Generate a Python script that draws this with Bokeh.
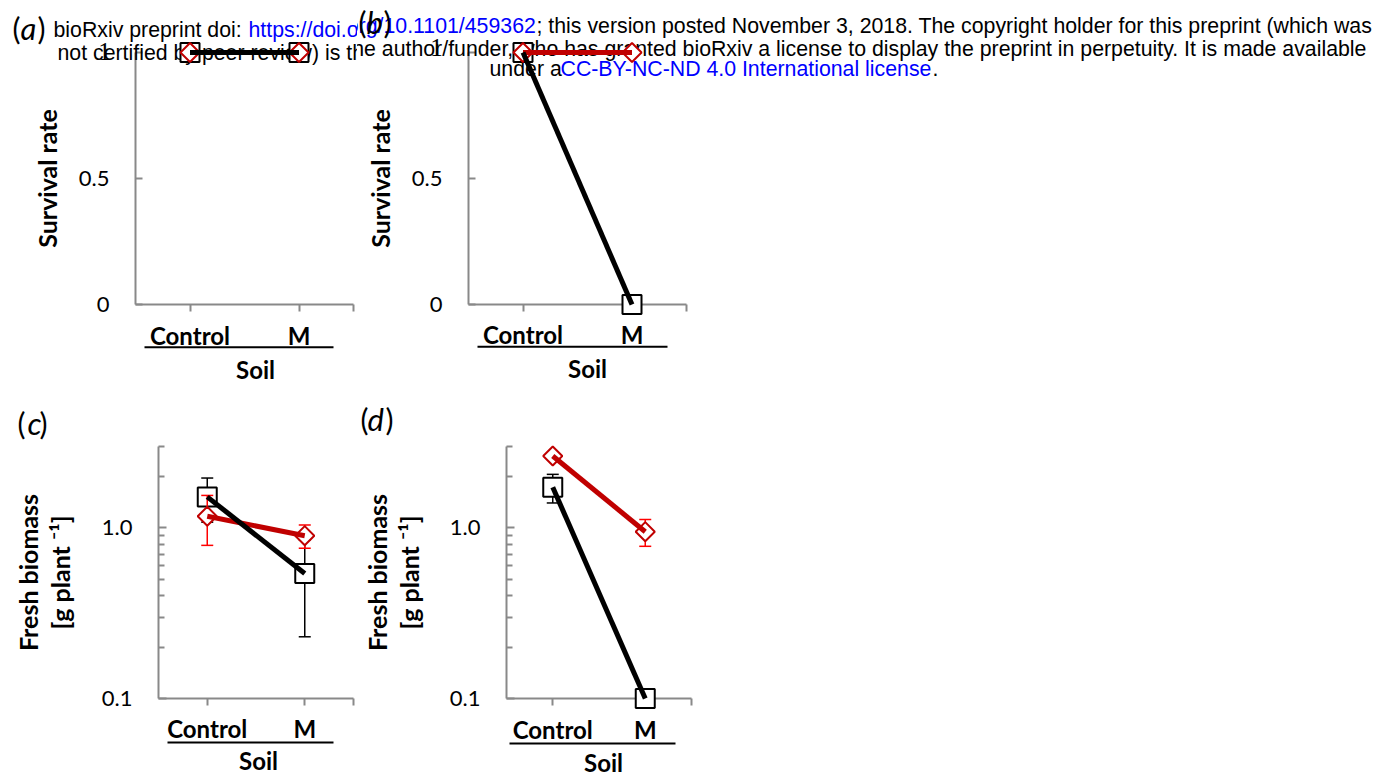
import math
from bokeh.plotting import figure
from bokeh.models import FixedTicker, Range1d
from bokeh.core.properties import value
from bokeh.layouts import column, row
from bokeh.embed import file_html
from bokeh.resources import INLINE

# ---------------- data ----------------
categories = ["Control", "M"]
soil_title = "Soil"

survival_title = "Survival rate"
survival_ticks = [0, 0.5, 1]
survival_tick_labels = ["0", "0.5", ""]
survival_top_label = "1"

survival_a_black = [1.0, 1.0]
survival_a_red = [1.0, 1.0]
survival_b_black = [1.0, 0.0]
survival_b_red = [1.0, 1.0]

biomass_title = "Fresh biomass\n[g plant \u207b\u00b9]"
biomass_ticks = [0.1, 1]
biomass_tick_labels = ["0.1", "1.0"]
biomass_minor_ticks = [0.2, 0.3, 0.4, 0.5, 0.6, 0.7, 0.8, 0.9, 2, 3]

biomass_c_black = [1.52, 0.54]
biomass_c_black_err = [0.44, 0.31]
biomass_c_red = [1.17, 0.90]
biomass_c_red_err = [0.38, 0.14]

biomass_d_black = [1.73, 0.10]
biomass_d_black_err = [0.33, 0.0]
biomass_d_red = [2.64, 0.95]
biomass_d_red_err = [0.08, 0.17]

header_line1 = ["bioRxiv preprint doi: ", "https://doi.org/10.1101/459362",
                "; this version posted November 3, 2018. The copyright holder for this preprint (which was"]
header_line2 = ["not certified by peer review) is the author/funder, who has granted bioRxiv a license to display the preprint in perpetuity. It is made available"]
header_line3 = ["under a", "CC-BY-NC-ND 4.0 International license", "."]

# ---------------- styling / layout ----------------
GRAY = "#898989"
DARK_RED = "#C00000"
ERR_RED = "#FF0000"
BLUE = "#0000FF"
FONT = "Lato"
HEAD_FONT = "Liberation Sans"
HEAD_SIZE = "21.3px"
CAT_SIZE = "24px"
TITLE_SIZE = "25px"

# header segments: (text, colour, page x, page baseline y)
header_segments = [
    (header_line1[0], "black", 53, 29), (header_line1[1], BLUE, 248, 29), (header_line1[2], "black", 536, 29),
    (header_line2[0], "black", 57, 52),
    (header_line3[0], "black", 489, 72), (header_line3[1], BLUE, 560, 72), (header_line3[2], "black", 932, 72),
]

specs = {
    "a": dict(fig=(0, 0, 357, 395), frame=(135, 353, 50, 304), yr=(0, 1), under=(144, 333), soil=255,
              ctrl_off=31, under_off=43, soil_off=65, title_st=14, letter=((12, 20, 45), 27), one=(104, 51)),
    "b": dict(fig=(357, 0, 1023, 395), frame=(468, 686, 52, 308), yr=(0, 1), under=(477, 667), soil=587,
              ctrl_off=30, under_off=43, soil_off=64, title_st=14, letter=((358, 366, 391), 25), one=(436, 51)),
    "c": dict(fig=(0, 395, 357, 381), frame=(158, 353, 446, 698), yr=(0.1, 3), under=(167, 333), soil=258,
              ctrl_off=30, under_off=44, soil_off=62, title_st=24, letter=((17, 27, 47), 422)),
    "d": dict(fig=(357, 395, 1023, 381), frame=(506, 691, 444, 701), yr=(0.1, 3), under=(509, 675), soil=603,
              ctrl_off=31, under_off=46, soil_off=64, title_st=23, letter=((360, 367, 393), 421)),
}


def make_panel(key, black, red, black_err, red_err, log):
    s = specs[key]
    fx, fy, fw, fh = s["fig"]
    L, R, T, B = s["frame"]
    y0, y1 = s["yr"]
    ncat = len(categories)
    xs = [i + 0.5 for i in range(ncat)]

    p = figure(width=fw, height=fh, output_backend="svg", toolbar_location=None,
               x_range=Range1d(0, ncat), y_range=Range1d(y0, y1),
               y_axis_type="log" if log else "linear",
               min_border_left=L - fx, min_border_right=fx + fw - R,
               min_border_top=T - fy, min_border_bottom=fy + fh - B)
    p.outline_line_color = None
    p.xgrid.visible = False
    p.ygrid.visible = False
    p.background_fill_color = "white"
    p.border_fill_color = "white"

    def y_below(off):
        h = B - T
        if log:
            return 10 ** (math.log10(y0) - off * (math.log10(y1) - math.log10(y0)) / h)
        return y0 - off * (y1 - y0) / h

    def xdata(px):
        return (px - L) / (R - L) * ncat

    # page-positioned text, anchored at the frame's bottom-left corner
    def ptext(px, py, text, font=FONT, size="23px", style="normal", color="black",
              align="left", baseline="middle"):
        p.text(x=[0], y=[y0], text=[text], x_offset=px - L, y_offset=py - B,
               text_font=value(font), text_font_size=value(size), text_font_style=style,
               text_color=color, text_align=align, text_baseline=baseline, level="overlay")

    # category axis
    xa = p.xaxis[0]
    xa.ticker = FixedTicker(ticks=xs + [ncat])
    ov = {x: c for x, c in zip(xs, categories)}
    ov[ncat] = ""
    xa.major_label_overrides = ov
    xa.axis_line_color = GRAY
    xa.axis_line_width = 2
    xa.major_tick_line_color = GRAY
    xa.major_tick_line_width = 2
    xa.major_tick_out = 7
    xa.major_tick_in = 0
    xa.minor_tick_line_color = None
    xa.major_label_text_font = FONT
    xa.major_label_text_font_style = "bold"
    xa.major_label_text_font_size = CAT_SIZE
    xa.major_label_text_color = "black"
    xa.major_label_standoff = s["ctrl_off"] - 7 - 15

    # value axis
    ya = p.yaxis[0]
    if log:
        ya.ticker = FixedTicker(ticks=biomass_ticks, minor_ticks=biomass_minor_ticks)
        ya.major_label_overrides = dict(zip(biomass_ticks, biomass_tick_labels))
        ya.axis_label = biomass_title
        ya.major_tick_in = 8
        ya.minor_tick_in = 6
        ya.minor_tick_line_color = GRAY
        ya.minor_tick_line_width = 2
        ya.axis_label_text_line_height = 1.05
    else:
        ya.ticker = FixedTicker(ticks=survival_ticks)
        ya.major_label_overrides = dict(zip(survival_ticks, survival_tick_labels))
        ya.axis_label = survival_title
        ya.major_tick_in = 7
        ya.minor_tick_line_color = None
    ya.major_tick_out = 0
    ya.minor_tick_out = 0
    ya.axis_line_color = GRAY
    ya.axis_line_width = 2
    ya.major_tick_line_color = GRAY
    ya.major_tick_line_width = 2
    ya.major_label_standoff = 26
    ya.major_label_text_font = FONT
    ya.major_label_text_font_size = "22px"
    ya.major_label_text_color = "black"
    ya.axis_label_text_font = FONT
    ya.axis_label_text_font_style = "bold"
    ya.axis_label_text_font_size = TITLE_SIZE
    ya.axis_label_text_color = "black"
    ya.axis_label_standoff = s["title_st"]

    # header text of the page (top row only), drawn beneath the chart marks
    if fy < 100:
        for text, col, px, py in header_segments:
            approx_w = len(text) * 10.5
            if px + approx_w < fx or px > fx + fw:
                continue
            ptext(px, py, text, font=HEAD_FONT, size=HEAD_SIZE, color=col, baseline="alphabetic")
        ox, oy = s["one"]
        ptext(ox, oy, survival_top_label, font="Liberation Serif", size="25px", align="center")

    # panel letter
    (lx0, lx1, lx2), ly = s["letter"]
    ptext(lx0, ly, "(", size="30px")
    ptext(lx1, ly, key, size="31px", style="italic")
    ptext(lx2, ly, ")", size="30px", align="right")

    # group underline and group title below the category labels
    yl = y_below(s["under_off"])
    p.segment(x0=[xdata(s["under"][0])], y0=[yl], x1=[xdata(s["under"][1])], y1=[yl],
              line_color="black", line_width=2, level="overlay")
    ptext(s["soil"], B + s["soil_off"], soil_title, size=CAT_SIZE, style="bold", align="center")

    # error bars + markers + lines
    def errbars(vals, errs, color):
        keep = [i for i, e in enumerate(errs) if e > 0]
        if not keep:
            return
        xe = [xs[i] for i in keep]
        lo = [vals[i] - errs[i] for i in keep]
        hi = [vals[i] + errs[i] for i in keep]
        p.segment(xe, lo, xe, hi, line_color=color, line_width=1.5, level="overlay")
        p.scatter(xe, hi, marker="dash", size=12, line_color=color, line_width=1.5, level="overlay")
        p.scatter(xe, lo, marker="dash", size=12, line_color=color, line_width=1.5, level="overlay")

    if black_err:
        errbars(black, black_err, "black")
    p.scatter(xs, black, marker="square", size=19, line_color="black", line_width=2,
              fill_color="white", level="overlay")
    if red_err:
        errbars(red, red_err, ERR_RED)
    p.scatter(xs, red, marker="square", angle=math.pi / 4, size=13.5, line_color=DARK_RED, line_width=2,
              fill_color="white", level="overlay")
    p.line(xs, red, line_color=DARK_RED, line_width=5, level="overlay")
    p.line(xs, black, line_color="black", line_width=5, level="overlay")
    return p


pa = make_panel("a", survival_a_black, survival_a_red, None, None, False)
pb = make_panel("b", survival_b_black, survival_b_red, None, None, False)
pc = make_panel("c", biomass_c_black, biomass_c_red, biomass_c_black_err, biomass_c_red_err, True)
pd = make_panel("d", biomass_d_black, biomass_d_red, biomass_d_black_err, biomass_d_red_err, True)

layout = column(row(pa, pb), row(pc, pd))
open("out.html", "w").write(file_html(layout, INLINE))
